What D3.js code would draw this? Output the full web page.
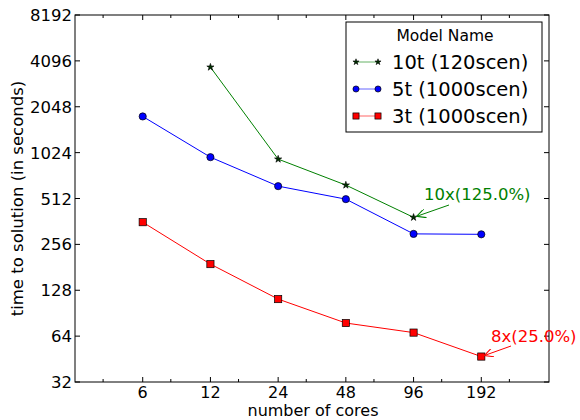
<!DOCTYPE html>
<html>
<head>
<meta charset="utf-8">
<script src="https://cdn.jsdelivr.net/npm/d3@7"></script>
<style>
body { margin: 0; background: #fff; }
svg { font-family: "DejaVu Sans", sans-serif; }
</style>
</head>
<body>
<svg width="580" height="420"></svg>
<script>
// data
const cores = [6, 12, 24, 48, 96, 192];
const yTicks = [32, 64, 128, 256, 512, 1024, 2048, 4096, 8192];
const minorX = [4, 8, 16, 32, 64, 128, 256];

const t10Cores = [12, 24, 48, 96];
const t10Times = [3725, 928, 627, 385];
const t5Times = [1769, 956, 617, 507, 300, 298];
const t3Times = [358, 190, 112, 78, 67.5, 47];

const seriesNames = ['10t (120scen)', '5t (1000scen)', '3t (1000scen)'];

const plot = {left: 75, right: 549, top: 15, bottom: 382};

let svg = d3.select('svg');

let x = d3.scaleLog().base(2).domain([3, 384]).range([plot.left, plot.right]);
let y = d3.scaleLog().base(2).domain([32, 8192]).range([plot.bottom, plot.top]);

// frame
svg.append('rect')
    .attr('x', plot.left).attr('y', plot.top)
    .attr('width', plot.right - plot.left).attr('height', plot.bottom - plot.top)
    .attr('fill', 'none').attr('stroke', '#000').attr('stroke-width', 1);

// ticks (inward, on all four sides like matplotlib)
let ticks = svg.append('g').attr('stroke', '#000').attr('stroke-width', 1);
cores.forEach(c => {
    ticks.append('line').attr('x1', x(c)).attr('x2', x(c)).attr('y1', plot.bottom).attr('y2', plot.bottom - 5);
    ticks.append('line').attr('x1', x(c)).attr('x2', x(c)).attr('y1', plot.top).attr('y2', plot.top + 5);
});
minorX.forEach(c => {
    ticks.append('line').attr('x1', x(c)).attr('x2', x(c)).attr('y1', plot.bottom).attr('y2', plot.bottom - 3);
    ticks.append('line').attr('x1', x(c)).attr('x2', x(c)).attr('y1', plot.top).attr('y2', plot.top + 3);
});
yTicks.forEach(v => {
    ticks.append('line').attr('y1', y(v)).attr('y2', y(v)).attr('x1', plot.left).attr('x2', plot.left + 5);
    ticks.append('line').attr('y1', y(v)).attr('y2', y(v)).attr('x1', plot.right).attr('x2', plot.right - 5);
});

// tick labels
svg.append('g').selectAll('text').data(cores).enter().append('text')
    .attr('x', d => x(d)).attr('y', plot.bottom + 16)
    .attr('text-anchor', 'middle').attr('font-size', 16).text(d => d);

svg.append('g').selectAll('text').data(yTicks).enter().append('text')
    .attr('x', plot.left - 3).attr('y', d => y(d) + 6)
    .attr('text-anchor', 'end').attr('font-size', 16.5).text(d => d);

// axis labels
svg.append('text')
    .attr('x', (plot.left + plot.right) / 2 + 1).attr('y', 416)
    .attr('text-anchor', 'middle').attr('font-size', 16)
    .text('number of cores');

svg.append('text')
    .attr('transform', `translate(23, ${(plot.top + plot.bottom) / 2}) rotate(-90)`)
    .attr('text-anchor', 'middle').attr('font-size', 16.5)
    .text('time to solution (in seconds)');

let line = d3.line().x(d => x(d[0])).y(d => y(d[1]));

function drawSeries(xs, ys, color, marker, fill) {
    let pts = xs.map((c, i) => [c, ys[i]]);
    svg.append('path').datum(pts)
        .attr('d', line).attr('fill', 'none')
        .attr('stroke', color).attr('stroke-width', 1);
    let g = svg.append('g');
    pts.forEach(p => drawMarker(g, x(p[0]), y(p[1]), marker, fill, 1));
}

function drawMarker(g, cx, cy, marker, fill, k) {
    if (marker === 'circle') {
        g.append('circle').attr('cx', cx).attr('cy', cy).attr('r', 3.6 * k)
            .attr('fill', fill).attr('stroke', '#000').attr('stroke-width', 0.7);
    } else if (marker === 'square') {
        g.append('rect').attr('x', cx - 3.6 * k).attr('y', cy - 3.6 * k)
            .attr('width', 7.2 * k).attr('height', 7.2 * k)
            .attr('fill', fill).attr('stroke', '#000').attr('stroke-width', 0.7);
    } else {
        let star = d3.symbol().type(d3.symbolStar).size(16 * k * k);
        g.append('path').attr('d', star).attr('transform', `translate(${cx},${cy})`)
            .attr('fill', fill).attr('stroke', '#000').attr('stroke-width', 0.6);
    }
}

drawSeries(t10Cores, t10Times, 'green', 'star', '#003000');
drawSeries(cores, t5Times, 'blue', 'circle', 'blue');
drawSeries(cores, t3Times, 'red', 'square', 'red');

// annotations
svg.append('defs').selectAll('marker').data(['green', 'red']).enter().append('marker')
    .attr('id', d => 'arr-' + d)
    .attr('viewBox', '0 0 10 10').attr('refX', 10).attr('refY', 5)
    .attr('markerWidth', 9).attr('markerHeight', 9).attr('orient', 'auto')
    .attr('markerUnits', 'userSpaceOnUse')
  .append('path').attr('d', 'M0,0 L10,5 L0,10').attr('fill', 'none')
    .attr('stroke', d => d).attr('stroke-width', 1.2);

function annotate(px, py, tx, ty, ax, ay, label, color) {
    svg.append('line')
        .attr('x1', ax).attr('y1', ay).attr('x2', x(px) + 3).attr('y2', y(py) - 1)
        .attr('stroke', color).attr('stroke-width', 1)
        .attr('marker-end', `url(#arr-${color})`);
    svg.append('text').attr('x', tx).attr('y', ty)
        .attr('font-size', 16.5).attr('fill', color).text(label);
}
annotate(96, 385, 424, 200, 449, 205, '10x(125.0%)', 'green');
annotate(192, 47, 491, 342, 511, 346, '8x(25.0%)', 'red');

// legend
let legend = svg.append('g');
legend.append('rect')
    .attr('x', 346).attr('y', 22).attr('width', 196).attr('height', 110)
    .attr('fill', '#fff').attr('stroke', '#000').attr('stroke-width', 1);
legend.append('text').attr('x', 445).attr('y', 41)
    .attr('text-anchor', 'middle').attr('font-size', 15.5).text('Model Name');

let legendStyle = [
    {color: 'green', marker: 'star', fill: '#003000'},
    {color: 'blue', marker: 'circle', fill: 'blue'},
    {color: 'red', marker: 'square', fill: 'red'}
];
seriesNames.forEach((name, i) => {
    let ly = 62 + i * 27;
    let st = legendStyle[i];
    legend.append('line').attr('x1', 356).attr('x2', 378).attr('y1', ly).attr('y2', ly)
        .attr('stroke', st.color).attr('stroke-opacity', 0.6).attr('stroke-width', 1);
    drawMarker(legend, 356, ly, st.marker, st.fill, 0.85);
    drawMarker(legend, 378, ly, st.marker, st.fill, 0.85);
    legend.append('text').attr('x', 392).attr('y', ly + 7)
        .attr('font-size', 19.5).text(name);
});
</script>
</body>
</html>
